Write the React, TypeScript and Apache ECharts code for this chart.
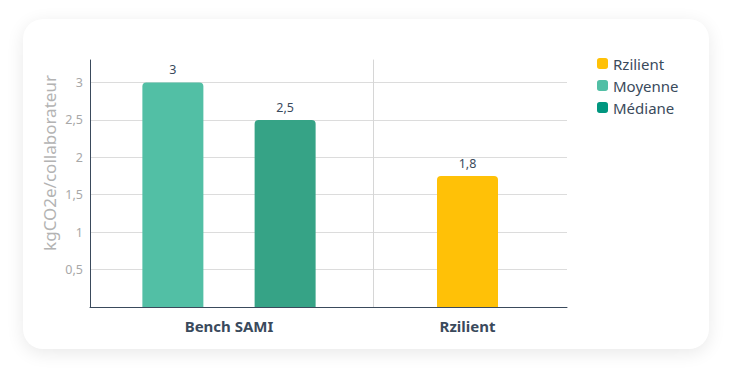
import React, { useEffect, useRef } from "react";
import * as echarts from "echarts";

const groupCategories = ["Bench SAMI"];
const rzCategories = ["Rzilient"];
const moyenneValues = [3];
const medianeValues = [2.5];
const rzilientValues = [1.75];
const legendNames = ["Rzilient", "Moyenne", "Médiane"];
const yAxisTitle = "kgCO2e/collaborateur";

const FONT = "'Noto Sans', sans-serif";
const DARK = "#3a4a5c";

const fmt = (v: number) => {
  const s = Number.isInteger(v) ? String(v) : v.toFixed(1);
  return s.replace(".", ",");
};

export default function App() {
  const ref = useRef<HTMLDivElement>(null);
  useEffect(() => {
    if (!ref.current) return;
    const chart = echarts.init(ref.current, undefined, { renderer: "svg" });
    const yBase = {
      type: "value",
      min: 0,
      max: 3.3,
      interval: 0.5,
      axisTick: { show: false },
      splitLine: { show: true, showMinLine: false, showMaxLine: false, lineStyle: { color: "#dcdcdc" } },
    };
    const labelStyle = {
      show: true,
      position: "top",
      distance: 6,
      color: DARK,
      fontSize: 12.5,
      fontFamily: FONT,
      formatter: (p: any) => fmt(p.value),
    };
    const xLabel = { color: DARK, fontSize: 15, fontWeight: "bold", margin: 11, fontFamily: FONT };
    chart.setOption({
      animation: false,
      textStyle: { fontFamily: FONT },
      legend: {
        orient: "vertical",
        left: 592,
        top: 51,
        icon: "roundRect",
        itemWidth: 11,
        itemHeight: 11,
        itemGap: 7,
        textStyle: { fontSize: 15, color: DARK, fontFamily: FONT },
        data: [
          { name: legendNames[0], itemStyle: { color: "#ffc107" } },
          { name: legendNames[1], itemStyle: { color: "#52bfa5" } },
          { name: legendNames[2], itemStyle: { color: "#00967f" } },
        ],
      },
      grid: [
        { left: 90, top: 60, width: 278, bottom: 69 },
        { left: 368, top: 60, width: 199, bottom: 69 },
      ],
      xAxis: [
        {
          type: "category",
          gridIndex: 0,
          data: groupCategories,
          axisTick: { show: false },
          axisLine: { lineStyle: { color: DARK } },
          axisLabel: xLabel,
        },
        {
          type: "category",
          gridIndex: 1,
          data: rzCategories,
          axisTick: { show: false },
          axisLine: { lineStyle: { color: DARK } },
          axisLabel: xLabel,
        },
      ],
      yAxis: [
        {
          ...yBase,
          gridIndex: 0,
          axisLine: { show: true, lineStyle: { color: DARK } },
          axisLabel: {
            color: "#a8a8a8",
            fontSize: 12.5,
            margin: 7,
            showMinLabel: false,
            showMaxLabel: false,
            fontFamily: FONT,
            formatter: (v: number) => fmt(v),
          },
        },
        {
          ...yBase,
          gridIndex: 1,
          offset: -5,
          axisLine: { show: true, lineStyle: { color: "#d6d6d6" } },
          axisLabel: { show: false },
        },
      ],
      graphic: [
        {
          type: "text",
          x: 49,
          y: 163,
          rotation: Math.PI / 2,
          style: {
            text: yAxisTitle,
            fill: "#b3b3b3",
            fontSize: 17,
            fontFamily: FONT,
            align: "center",
            verticalAlign: "middle",
          },
        },
      ],
      series: [
        {
          name: "Moyenne",
          type: "bar",
          xAxisIndex: 0,
          yAxisIndex: 0,
          data: moyenneValues,
          barWidth: 61,
          barGap: "84%",
          itemStyle: { color: "#52bfa5", borderRadius: [4, 4, 0, 0] },
          label: labelStyle,
        },
        {
          name: "Médiane",
          type: "bar",
          xAxisIndex: 0,
          yAxisIndex: 0,
          data: medianeValues,
          barWidth: 61,
          barGap: "84%",
          itemStyle: { color: "#36a386", borderRadius: [4, 4, 0, 0] },
          label: labelStyle,
        },
        {
          name: "Rzilient",
          type: "bar",
          xAxisIndex: 1,
          yAxisIndex: 1,
          data: rzilientValues,
          barWidth: 61,
          itemStyle: { color: "#ffc107", borderRadius: [4, 4, 0, 0] },
          label: labelStyle,
        },
      ],
    });
    return () => chart.dispose();
  }, []);

  return (
    <div style={{ position: "absolute", left: 0, top: 0, width: 733, height: 376, background: "#ffffff", overflow: "hidden" }}>
      <div
        style={{
          position: "absolute",
          left: 23,
          top: 19,
          width: 686,
          height: 330,
          borderRadius: 20,
          background: "#ffffff",
          boxShadow: "0 4px 18px rgba(0,0,0,0.09)",
        }}
      />
      <div ref={ref} style={{ position: "absolute", left: 0, top: 0, width: 733, height: 376 }} />
    </div>
  );
}
